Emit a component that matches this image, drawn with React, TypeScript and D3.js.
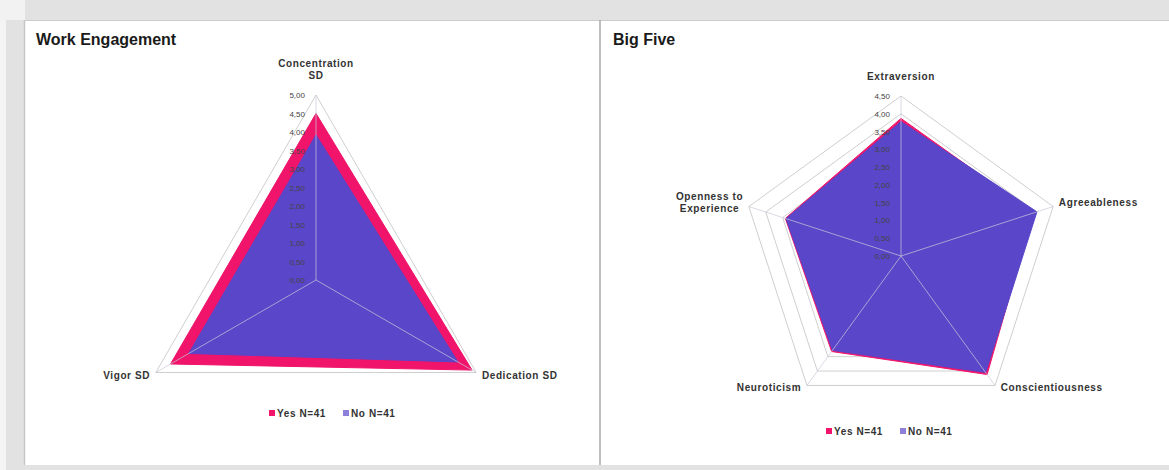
import React from "react";
import * as d3 from "d3";

const WE_AXES = ["Concentration\nSD", "Dedication SD", "Vigor SD"];
const WE_YES = [4.5, 4.87, 4.54];
const WE_NO = [3.92, 4.43, 3.97];
const WE_TICKS = [0, 0.5, 1, 1.5, 2, 2.5, 3, 3.5, 4, 4.5, 5];

const BF_AXES = ["Extraversion", "Agreeableness", "Conscientiousness", "Neuroticism", "Openness to\nExperience"];
const BF_YES = [3.87, 3.92, 4.12, 3.32, 3.42];
const BF_NO = [3.78, 4.02, 4.05, 3.28, 3.4];
const BF_TICKS = [0, 0.5, 1, 1.5, 2, 2.5, 3, 3.5, 4, 4.5];

const SERIES_NAMES = ["Yes N=41", "No N=41"];
const PINK = "#f0146a";
const BLUE = "#5a46c8";
const FONT = "'Liberation Sans', Arial, sans-serif";

const fmt = (v: number) => d3.format(".2f")(v).replace(".", ",");

let ctx: CanvasRenderingContext2D | null = null;
function measure(t: string, size: number, ls: number) {
  if (!ctx) ctx = document.createElement("canvas").getContext("2d");
  if (!ctx) return t.length * size * 0.6;
  ctx.font = `bold ${size}px 'Liberation Sans', Arial`;
  return ctx.measureText(t).width + ls * (t.length - 1);
}

type RadarProps = {
  cx: number;
  cy: number;
  R: number;
  axes: string[];
  ticks: number[];
  yes: number[];
  no: number[];
  legendY: number;
  legendX: number;
};

function Radar({ cx, cy, R, axes, ticks, yes, no, legendY, legendX }: RadarProps) {
  const max = ticks[ticks.length - 1];
  const r = d3.scaleLinear().domain([0, max]).range([0, R]);
  const n = axes.length;
  const ang = (i: number) => (i * 2 * Math.PI) / n;
  const pt = (i: number, v: number): [number, number] => [
    cx + r(v) * Math.sin(ang(i)),
    cy - r(v) * Math.cos(ang(i)),
  ];
  const line = d3.line().curve(d3.curveLinearClosed);
  const poly = (vals: number[]) => line(vals.map((v, i) => pt(i, v))) || "";
  const ring = (v: number) => line(axes.map((_, i) => pt(i, v))) || "";
  const fs = 10;
  const ls = 0.6;

  return (
    <g>
      {ticks.slice(1).map((t) => (
        <path key={"g" + t} d={ring(t)} fill="none" stroke="#cfcfcf" strokeWidth={1} />
      ))}
      <path d={poly(yes)} fill={PINK} stroke={PINK} strokeWidth={1} />
      <path d={poly(no)} fill={BLUE} stroke={BLUE} strokeWidth={1} />
      {axes.map((_, i) => {
        const [x, y] = pt(i, max);
        return <line key={"s" + i} x1={cx} y1={cy} x2={x} y2={y} stroke="#c9c9dc" strokeOpacity={0.7} strokeWidth={1} />;
      })}
      {ticks.map((t) => (
        <text key={"t" + t} x={cx - 11} y={cy - r(t) + 3} textAnchor="end" fontSize={8} fill="#444" fontFamily={FONT}>
          {fmt(t)}
        </text>
      ))}
      {axes.map((label, i) => {
        const [x, y] = pt(i, max);
        const s = Math.sin(ang(i));
        const c = Math.cos(ang(i));
        const lines = label.split("\n");
        const lh = 12;
        if (Math.abs(s) < 0.1) {
          return (
            <text key={"a" + i} textAnchor="middle" fontSize={fs} fontWeight="bold" letterSpacing={ls} fill="#333" fontFamily={FONT}>
              {lines.map((l, k) => (
                <tspan key={k} x={x} y={y - 16 - (lines.length - 1 - k) * lh}>
                  {l}
                </tspan>
              ))}
            </text>
          );
        }
        const wmax = Math.max(...lines.map((l) => measure(l, fs, ls)));
        const gap = 6;
        const xc = s > 0 ? x + gap + wmax / 2 : x - gap - wmax / 2;
        const yc = y + (c > 0 ? -4 : 2.5);
        const top = yc - ((lines.length - 1) * lh) / 2 + fs * 0.35;
        return (
          <text key={"a" + i} textAnchor="middle" fontSize={fs} fontWeight="bold" letterSpacing={ls} fill="#333" fontFamily={FONT}>
            {lines.map((l, k) => (
              <tspan key={k} x={xc} y={top + k * lh}>
                {l}
              </tspan>
            ))}
          </text>
        );
      })}
      <g transform={`translate(${legendX},${legendY})`}>
        <rect x={0} y={-3} width={6} height={6} fill={PINK} />
        <text x={8} y={3.5} fontSize={fs} fontWeight="bold" letterSpacing={ls} fill="#333" fontFamily={FONT}>
          {SERIES_NAMES[0]}
        </text>
        <rect x={74} y={-3} width={6} height={6} fill="#8c80da" />
        <text x={82} y={3.5} fontSize={fs} fontWeight="bold" letterSpacing={ls} fill="#333" fontFamily={FONT}>
          {SERIES_NAMES[1]}
        </text>
      </g>
    </g>
  );
}

export default function App() {
  return (
    <div style={{ position: "absolute", left: 0, top: 0 }}>
      <svg width={1169} height={470} style={{ display: "block" }}>
        <rect x={0} y={0} width={1169} height={470} fill="#e2e2e2" />
        <rect x={0} y={0} width={25} height={20} fill="#f2f2f2" />
        <rect x={0} y={20} width={6} height={450} fill="#f4f4f4" />
        <rect x={24} y={20} width={1145} height={445} fill="#ffffff" />
        <line x1={24.5} y1={20} x2={24.5} y2={465} stroke="#c6c6c6" strokeWidth={1.5} />
        <line x1={24} y1={20.5} x2={1169} y2={20.5} stroke="#cccccc" strokeWidth={1} />
        <line x1={600} y1={20} x2={600} y2={465} stroke="#a8a8a8" strokeWidth={1.5} />
        <text x={36} y={45} fontSize={16} fontWeight="bold" fill="#1a1a1a" fontFamily={FONT}>
          Work Engagement
        </text>
        <text x={613} y={45} fontSize={16} fontWeight="bold" fill="#1a1a1a" fontFamily={FONT}>
          Big Five
        </text>
        <Radar cx={316} cy={280} R={185} axes={WE_AXES} ticks={WE_TICKS} yes={WE_YES} no={WE_NO} legendX={269} legendY={413} />
        <Radar cx={901} cy={256} R={160} axes={BF_AXES} ticks={BF_TICKS} yes={BF_YES} no={BF_NO} legendX={826} legendY={431} />
      </svg>
    </div>
  );
}
